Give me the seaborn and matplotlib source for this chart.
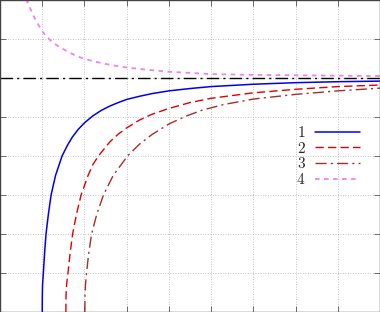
import matplotlib
matplotlib.use("Agg")
import matplotlib.pyplot as plt
import seaborn as sns

# values
x1 = [1.0, 1.002, 1.008, 1.027, 1.055, 1.09, 1.145, 1.21, 1.315, 1.47, 1.6, 1.71, 1.85, 2.0,
      2.2, 2.4, 2.6, 2.8, 3.0, 3.3, 3.6, 4.0, 4.5, 5.0, 6.0, 7.0, 8.0, 9.0]
y1 = [0.0, 0.4, 0.7, 1.0, 1.5, 2.0, 2.5, 3.0, 3.5, 4.0, 4.28, 4.48, 4.68, 4.85,
      5.03, 5.17, 5.28, 5.37, 5.45, 5.53, 5.6, 5.67, 5.73, 5.78, 5.84, 5.88, 5.905, 5.92]

x2 = [1.56, 1.563, 1.577, 1.61, 1.66, 1.72, 1.81, 1.92, 2.085, 2.2, 2.33, 2.6, 2.8, 3.0,
      3.3, 3.6, 4.0, 4.5, 5.0, 6.0, 7.0, 8.0, 9.0]
y2 = [0.0, 0.4, 0.7, 1.0, 1.5, 2.0, 2.5, 3.0, 3.5, 3.78, 4.0, 4.36, 4.56, 4.72,
      4.92, 5.07, 5.22, 5.37, 5.48, 5.62, 5.71, 5.78, 5.82]

x3 = [2.01, 2.012, 2.025, 2.05, 2.1, 2.17, 2.29, 2.45, 2.68, 3.02, 3.3, 3.6, 4.0, 4.4,
      4.8, 5.3, 6.0, 7.0, 8.0, 9.0]
y3 = [0.0, 0.4, 0.7, 1.0, 1.5, 2.0, 2.5, 3.0, 3.5, 4.0, 4.3, 4.55, 4.82, 5.02,
      5.18, 5.32, 5.46, 5.58, 5.67, 5.74]

x4 = [0.6, 0.7, 0.8, 0.9, 1.0, 1.1, 1.25, 1.4, 1.6, 1.8, 2.0, 2.25, 2.5, 2.75, 3.0, 3.5,
      4.0, 5.0, 6.0, 7.0, 8.0, 9.0]
y4 = [8.08, 7.82, 7.58, 7.38, 7.2, 7.06, 6.91, 6.8, 6.68, 6.57, 6.49, 6.42, 6.36, 6.31, 6.27, 6.21,
      6.16, 6.1, 6.08, 6.07, 6.06, 6.05]

asymptote = 6.0
labels = ["1", "2", "3", "4"]
xticks = [1, 2, 3, 4, 5, 6, 7, 8]
yticks = [1, 2, 3, 4, 5, 6, 7]

sns.set_theme(style="white")
plt.rcParams["mathtext.fontset"] = "cm"

fig = plt.figure(figsize=(3.8, 3.12), dpi=100)
ax = fig.add_axes([0, 0, 1, 1])

ax.axhline(asymptote, color="black", lw=1.0, linestyle=(0, (9, 3, 1.5, 3)), zorder=2)

sns.lineplot(x=x1, y=y1, ax=ax, color="#0000ee", lw=1.1, label="$" + labels[0] + "$")
sns.lineplot(x=x2, y=y2, ax=ax, color="#e00000", lw=1.0, linestyle=(0, (6, 3)), label="$" + labels[1] + "$")
sns.lineplot(x=x3, y=y3, ax=ax, color="#a0302a", lw=1.0, linestyle=(0, (8, 3, 1.5, 3)), label="$" + labels[2] + "$")
sns.lineplot(x=x4, y=y4, ax=ax, color="#ee82ee", lw=1.3, linestyle=(0, (2.5, 2.5)), label="$" + labels[3] + "$")

ax.set_xlim(0, 9)
ax.set_ylim(0, 8)
ax.set_xticks(xticks)
ax.set_yticks(yticks)
ax.set_xticklabels([])
ax.set_yticklabels([])
ax.tick_params(direction="in", length=4, width=0.6, color="#555555",
               top=True, right=True, bottom=True, left=True)
ax.grid(True, color="#b0b0b0", linestyle=(0, (1, 2)), linewidth=0.6)
for s in ax.spines.values():
    s.set_visible(True)
    s.set_color("#444444")
    s.set_linewidth(1.0)

ax.legend(loc="center right", bbox_to_anchor=(0.947, 0.5), frameon=False,
          markerfirst=False, handlelength=2.95, handletextpad=0.6,
          labelspacing=0.05, borderpad=0, borderaxespad=0, fontsize=11)

fig.savefig("out.png", dpi=100)
